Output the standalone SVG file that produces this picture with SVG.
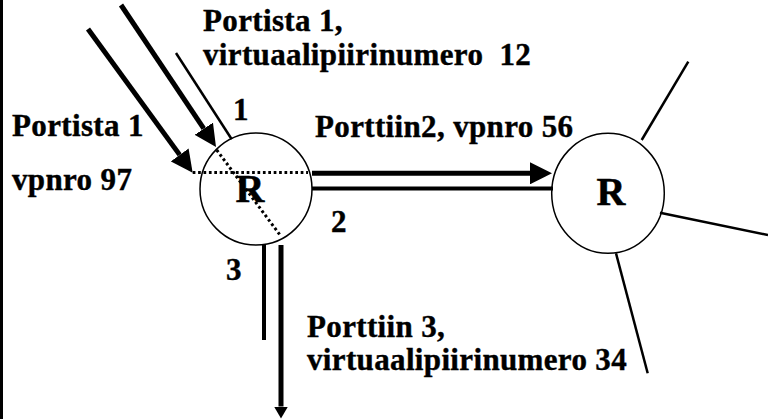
<svg xmlns="http://www.w3.org/2000/svg" width="768" height="419" viewBox="0 0 768 419">
  <style>
    .lbl { font-family: 'Liberation Serif', 'Times New Roman', serif; font-weight: bold; font-size: 31px; letter-spacing: 0.35px; fill: #000; stroke: #000; stroke-width: 0.4px; }
    .rtxt { font-family: 'Liberation Serif', 'Times New Roman', serif; font-weight: bold; font-size: 40px; fill: #000; stroke: #000; stroke-width: 0.5px; }
    .node { fill: #fff; stroke: #000; stroke-width: 1.5; }
    .thick { stroke: #000; stroke-width: 5; fill: none; }
    .med { stroke: #000; stroke-width: 4; fill: none; }
    .thin { stroke: #000; stroke-width: 2.5; fill: none; }
    .dot { stroke: #000; stroke-width: 3; stroke-dasharray: 2.7 2.7; fill: none; }
  </style>
  <defs>
    <marker id="head" viewBox="0 -11 22 22" refX="0" refY="0" markerWidth="22" markerHeight="22" markerUnits="userSpaceOnUse" orient="auto">
      <path d="M0,-11 L22,0 L0,11 Z" fill="#000"/>
    </marker>
    <marker id="headSmall" viewBox="0 -7 12 14" refX="0" refY="0" markerWidth="12" markerHeight="14" markerUnits="userSpaceOnUse" orient="auto">
      <path d="M0,-7 L12,0 L0,7 Z" fill="#000"/>
    </marker>
  </defs>
  <rect x="0" y="0" width="768" height="419" fill="#fff"/>
  <rect x="0" y="0" width="3" height="419" fill="#000"/>

  <g id="router1">
    <circle class="node" cx="256" cy="189" r="56"/>
    <text class="rtxt" x="250" y="202" text-anchor="middle">R</text>
  </g>
  <g id="router2">
    <ellipse class="node" cx="608" cy="193.3" rx="56.3" ry="60"/>
    <text class="rtxt" x="611" y="205" text-anchor="middle">R</text>
  </g>

  <g id="connectors">
    <line class="thick" x1="88" y1="29" x2="179.7" y2="154.9" marker-end="url(#head)"/>
    <line class="thick" x1="121" y1="5" x2="203.8" y2="128.7" marker-end="url(#head)"/>
    <line class="thin" x1="176" y1="53" x2="231.7" y2="139.3"/>
    <line class="dot" x1="192.7" y1="172.5" x2="308" y2="172.5"/>
    <line class="dot" x1="216.7" y1="150" x2="280" y2="235"/>
    <line class="thick" x1="312" y1="173.3" x2="530" y2="173.3" marker-end="url(#head)"/>
    <line class="med" x1="312" y1="188.5" x2="553" y2="188.5"/>
    <line class="med" x1="264" y1="245" x2="264" y2="340"/>
    <line class="thick" x1="281" y1="245" x2="281" y2="406.5" marker-end="url(#headSmall)"/>
    <line class="thin" x1="641.7" y1="140" x2="688.3" y2="61.7"/>
    <line class="thin" x1="660" y1="212.7" x2="768" y2="235"/>
    <line class="thin" x1="616" y1="253.3" x2="647.7" y2="373.3"/>
  </g>

  <g id="labels">
    <text class="lbl" x="203" y="31">Portista 1,</text>
    <text class="lbl" x="203" y="64.5" xml:space="preserve">virtuaalipiirinumero  12</text>
    <text class="lbl" x="12" y="136">Portista 1</text>
    <text class="lbl" x="12" y="190">vpnro 97</text>
    <text class="lbl" x="233" y="120">1</text>
    <text class="lbl" x="315" y="136.5">Porttiin2, vpnro 56</text>
    <text class="lbl" x="331" y="232">2</text>
    <text class="lbl" x="226" y="280">3</text>
    <text class="lbl" x="307" y="336.7">Porttiin 3,</text>
    <text class="lbl" x="307" y="370">virtuaalipiirinumero 34</text>
  </g>
</svg>
